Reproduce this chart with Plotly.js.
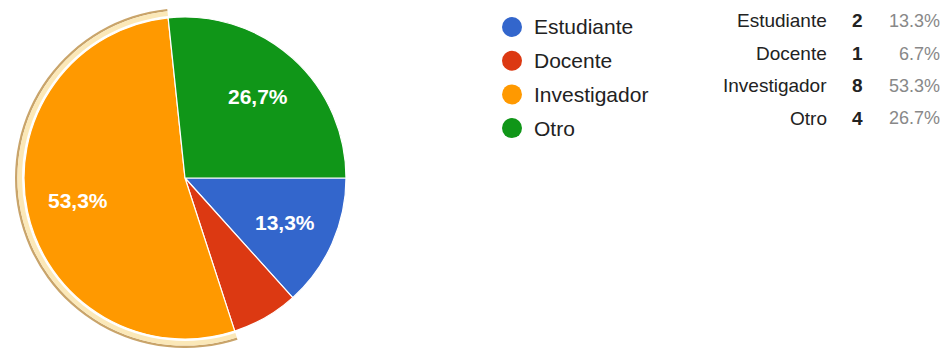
<!DOCTYPE html>
<html>
<head>
<meta charset="utf-8">
<script src="https://cdn.plot.ly/plotly-3.0.1.min.js"></script>
<style>html,body{margin:0;padding:0;background:#fff;}#chart{width:952px;height:348px;}</style>
</head>
<body>
<div id="chart"></div>
<script>
const categories = ['Estudiante', 'Docente', 'Investigador', 'Otro'];
const counts = [2, 1, 8, 4];
const tablePercents = ['13.3%', '6.7%', '53.3%', '26.7%'];
const sliceColors = ['#3366cc', '#dc3912', '#ff9900', '#109618'];
const highlighted = 'Investigador';

const W = 952, H = 348;
const px = x => x / W;
const py = y => 1 - y / H;
const FONT = 'Liberation Sans, Arial, sans-serif';

// main pie: center (185,178), radius 161
const cx = 185, cy = 178, r = 161;
const mainPie = {
  type: 'pie',
  labels: categories,
  values: counts,
  sort: false,
  direction: 'clockwise',
  rotation: 90,
  marker: {colors: sliceColors, line: {color: '#ffffff', width: 1.2}},
  textinfo: 'none',
  hoverinfo: 'none',
  showlegend: false,
  domain: {x: [px(cx - r), px(cx + r)], y: [py(cy + r), py(cy - r)]}
};

// highlight ring around the selected slice (cream band + tan outer edge)
function ring(rOut, rIn, color) {
  return {
    type: 'pie',
    labels: categories,
    values: counts,
    sort: false,
    direction: 'clockwise',
    rotation: 90,
    hole: rIn / rOut,
    marker: {colors: categories.map(c => c === highlighted ? color : 'rgba(0,0,0,0)'),
             line: {width: 0}},
    textinfo: 'none',
    hoverinfo: 'none',
    showlegend: false,
    domain: {x: [px(cx - rOut), px(cx + rOut)], y: [Math.max(0, py(cy + rOut)), py(cy - rOut)]}
  };
}
const ringOuter = ring(170, 167.6, '#c9a46a');
const ringInner = ring(167.6, 163, '#fbe8b8');

const annotations = [];
const shapes = [];

// slice percentage labels along each slice bisector (Google style, 0.68 r)
const total = counts.reduce((a, b) => a + b, 0);
let cum = 0;
counts.forEach((v, i) => {
  const frac = v / total;
  const midDeg = -(cum + frac / 2) * 360; // clockwise from 3 o'clock
  cum += frac;
  if (frac < 0.1) return;
  const a = midDeg * Math.PI / 180;
  const lx = cx + 0.68 * r * Math.cos(a);
  const ly = cy - 0.68 * r * Math.sin(a);
  annotations.push({xref: 'paper', yref: 'paper', x: px(lx), y: py(ly),
    xanchor: 'center', yanchor: 'middle', showarrow: false,
    text: '<b>' + (frac * 100).toFixed(1).replace('.', ',') + '%</b>',
    font: {family: FONT, size: 21, color: '#ffffff'}});
});

categories.forEach((c, i) => {
  const ly = 27 + i * 33.7;
  shapes.push({type: 'circle', xref: 'paper', yref: 'paper',
    x0: px(502), x1: px(522), y0: py(ly + 10), y1: py(ly - 10),
    fillcolor: sliceColors[i], line: {width: 0}});
  annotations.push({xref: 'paper', yref: 'paper', x: px(532), y: py(ly),
    xanchor: 'left', yanchor: 'middle', showarrow: false, text: c,
    font: {family: FONT, size: 21, color: '#222222'}});
  const ty = 21 + i * 32.5;
  annotations.push({xref: 'paper', yref: 'paper', x: px(829), y: py(ty),
    xanchor: 'right', yanchor: 'middle', showarrow: false, text: c,
    font: {family: FONT, size: 19, color: '#222222'}});
  annotations.push({xref: 'paper', yref: 'paper', x: px(857), y: py(ty),
    xanchor: 'center', yanchor: 'middle', showarrow: false, text: '<b>' + counts[i] + '</b>',
    font: {family: FONT, size: 19, color: '#222222'}});
  annotations.push({xref: 'paper', yref: 'paper', x: px(942), y: py(ty),
    xanchor: 'right', yanchor: 'middle', showarrow: false, text: tablePercents[i],
    font: {family: FONT, size: 18, color: '#888888'}});
});

const layout = {
  width: W, height: H,
  margin: {l: 0, r: 0, t: 0, b: 0},
  paper_bgcolor: '#ffffff',
  showlegend: false,
  annotations: annotations,
  shapes: shapes
};

Plotly.newPlot('chart', [ringOuter, ringInner, mainPie], layout, {staticPlot: true, displayModeBar: false});
</script>
</body>
</html>
